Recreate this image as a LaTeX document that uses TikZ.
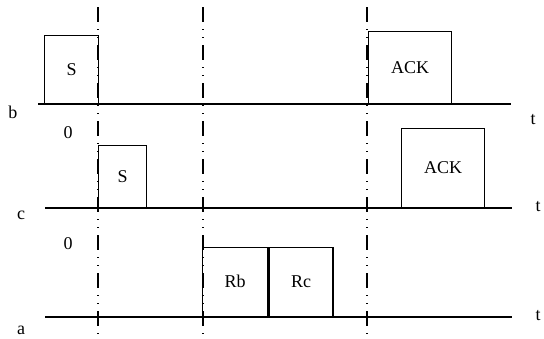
\documentclass[tikz,border=0pt]{standalone}
\usepackage{fontspec}
\setmainfont{Liberation Serif}
\usetikzlibrary{positioning}

\begin{document}
\begin{tikzpicture}[x=1pt,y=-1pt,
        every node/.style={font=\fontsize{18}{20}\selectfont,inner sep=0pt},
        axis/.style={line width=1.3pt},
        frame/.style={draw,line width=1.4pt,anchor=south west,minimum width=#1},
        marker/.style={line width=1.3pt,dash pattern=on 15pt off 7pt on 1pt off 7pt on 1pt off 7pt}]
        \useasboundingbox (0,0) rectangle (544,338);
        % time axes
        \coordinate (b0) at (38,104);  \coordinate (b1) at (511,104);
        \coordinate (c0) at (45,208);  \coordinate (c1) at (512,208);
        \coordinate (a0) at (45,317);  \coordinate (a1) at (512,317);
        \draw[axis] (b0) -- (b1);
        \draw[axis] (c0) -- (c1);
        \draw[axis] (a0) -- (a1);
        \node (lb) at (13,112) {b};
        \node (lc) at (21,215) {c};
        \node (la) at (21,330) {a};
        \node (tb) at (533,120) {t};
        \node (tc) at (538,207) {t};
        \node (ta) at (538,316) {t};
        \node (zc) at (68,133) {0};
        \node (za) at (68,244) {0};
        \node (zz) at (68,347) {0};
        % frames
        \node[frame=54pt,minimum height=68pt] (sb) at (44,104) {S};
        \node[frame=48pt,minimum height=62pt] (sc) at (98,208) {S};
        \node[frame=83pt,minimum height=72pt] (ackb) at (368,104) {ACK};
        \node[frame=83pt,minimum height=79pt] (ackc) at (401,208) {ACK};
        \node[frame=65pt,minimum height=69pt] (rb) at (202,317) {Rb};
        \node[frame=64pt,minimum height=69pt,right=0pt of rb] (rc) {Rc};
        % time markers
        \foreach \x/\n in {98/m1,203/m2,367/m3}{
            \coordinate (\n top) at (\x,7);
            \coordinate (\n bot) at (\x,345);
            \draw[marker] (\n top) -- (\n bot);
        }
\end{tikzpicture}
\end{document}
